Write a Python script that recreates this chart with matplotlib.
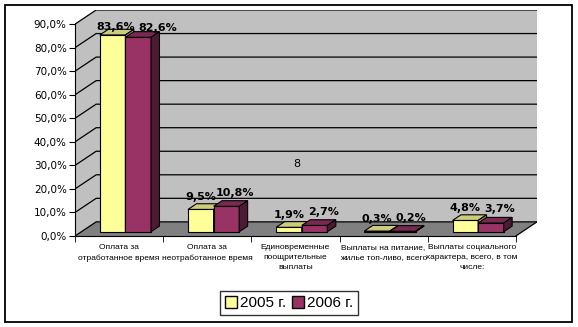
import matplotlib.pyplot as plt
from matplotlib.patches import Polygon, Rectangle, Patch

# Data
categories = ['Оплата за\nотработанное время',
              'Оплата за\nнеотработанное время',
              'Единовременные\nпоощрительные\nвыплаты',
              'Выплаты на питание,\nжилье топ-ливо, всего',
              'Выплаты социального\nхарактера, всего, в том\nчисле:']
vals_2005 = [83.6, 9.5, 1.9, 0.3, 4.8]
vals_2006 = [82.6, 10.8, 2.7, 0.2, 3.7]
labels_2005 = ['83,6%', '9,5%', '1,9%', '0,3%', '4,8%']
labels_2006 = ['82,6%', '10,8%', '2,7%', '0,2%', '3,7%']
yticks = [0, 10, 20, 30, 40, 50, 60, 70, 80, 90]

# depth of the fake 3d box (in data units)
DX, DY = 0.24, 6.0
D0, D1 = 0.3, 0.7
W = 0.29

fig = plt.figure(figsize=(5.78, 3.27), dpi=100)
fig.patches.append(Rectangle((5 / 578, 5 / 327), 567 / 578, 317 / 327,
                             transform=fig.transFigure, fill=False,
                             edgecolor='black', linewidth=1.3))

ax = fig.add_axes([75 / 578, 91 / 327, 462 / 578, 226 / 327])
ax.set_xlim(-0.5, 4.5 + DX)
ax.set_ylim(0, 96)
ax.patch.set_visible(False)

# walls and floor
ax.add_patch(Polygon([(-0.5 + DX, DY), (4.5 + DX, DY), (4.5 + DX, 90 + DY), (-0.5 + DX, 90 + DY)],
                     facecolor='#C0C0C0', edgecolor='none', zorder=0))
ax.add_patch(Polygon([(-0.5, 0), (-0.5 + DX, DY), (-0.5 + DX, 90 + DY), (-0.5, 90)],
                     facecolor='#C0C0C0', edgecolor='none', zorder=0))
ax.add_patch(Polygon([(-0.5, 0), (4.5, 0), (4.5 + DX, DY), (-0.5 + DX, DY)],
                     facecolor='#808080', edgecolor='none', zorder=0))
for v in yticks:
    ax.plot([-0.5, -0.5 + DX, 4.5 + DX], [v, v + DY, v + DY], color='black', lw=0.9, zorder=1)
ax.plot([4.5, 4.5 + DX], [0, DY], color='black', lw=0.9, zorder=1)


def bar3d(x, h, front, top, side, z):
    x0 = x + D0 * DX
    y0 = D0 * DY
    ax.bar(x0, h, width=W, bottom=y0, align='edge', color=front,
           edgecolor='black', linewidth=0.8, zorder=z)
    ddx, ddy = (D1 - D0) * DX, (D1 - D0) * DY
    ax.add_patch(Polygon([(x0, y0 + h), (x0 + W, y0 + h), (x0 + W + ddx, y0 + h + ddy),
                          (x0 + ddx, y0 + h + ddy)], facecolor=top,
                         edgecolor='black', linewidth=0.8, zorder=z))
    ax.add_patch(Polygon([(x0 + W, y0), (x0 + W + ddx, y0 + ddy), (x0 + W + ddx, y0 + h + ddy),
                          (x0 + W, y0 + h)], facecolor=side,
                         edgecolor='black', linewidth=0.8, zorder=z))


lab_font = dict(fontsize=8, fontweight='bold')
for i in range(len(categories)):
    bar3d(i - W, vals_2005[i], '#FFFF99', '#CCCC7A', '#999973', 3)
    bar3d(i, vals_2006[i], '#993366', '#7A2952', '#4D1A33', 4)
    # the first pair sits lower and wider apart (near the top of the wall)
    ox1, ox2, oy = (0.11, 0.29, 3.0) if i == 0 else (0.07, 0.17, 5.0)
    ax.text(i - W / 2 + ox1, vals_2005[i] + oy, labels_2005[i],
            ha='center', va='bottom', zorder=6, **lab_font)
    ax.text(i + W / 2 + ox2, vals_2006[i] + oy + 0.5, labels_2006[i],
            ha='center', va='bottom', zorder=6, **lab_font)

ax.text(2.02, 30.5, '8', ha='center', va='center', fontsize=8)

# axes
for s in ['top', 'right']:
    ax.spines[s].set_visible(False)
ax.spines['left'].set_bounds(0, 90)
ax.spines['bottom'].set_bounds(-0.5, 4.5)
ax.spines['left'].set_zorder(7)
ax.spines['bottom'].set_zorder(7)
ax.set_yticks(yticks)
ax.set_yticklabels(['%d,0%%' % v for v in yticks], fontsize=7.5)
ax.tick_params(axis='y', length=4, direction='out', pad=2)
ax.set_xticks(range(len(categories)))
ax.set_xticklabels(categories, fontsize=6, linespacing=1.6, family='Liberation Sans')
ax.set_xticks([i - 0.5 for i in range(len(categories) + 1)], minor=True)
ax.tick_params(axis='x', which='major', length=0, pad=6)
ax.tick_params(axis='x', which='minor', length=4, direction='out')

handles = [Patch(facecolor='#FFFF99', edgecolor='black', label='2005 г.'),
           Patch(facecolor='#993366', edgecolor='black', label='2006 г.')]
fig.legend(handles=handles, loc='center', bbox_to_anchor=(289 / 578, 1 - 303 / 327),
           ncol=2, prop={'family': 'Liberation Sans', 'size': 11}, frameon=True,
           fancybox=False, edgecolor='black',
           handlelength=0.8, handleheight=0.8, handletextpad=0.2, columnspacing=0.4,
           borderpad=0.3)

plt.savefig('out.png', dpi=100)
